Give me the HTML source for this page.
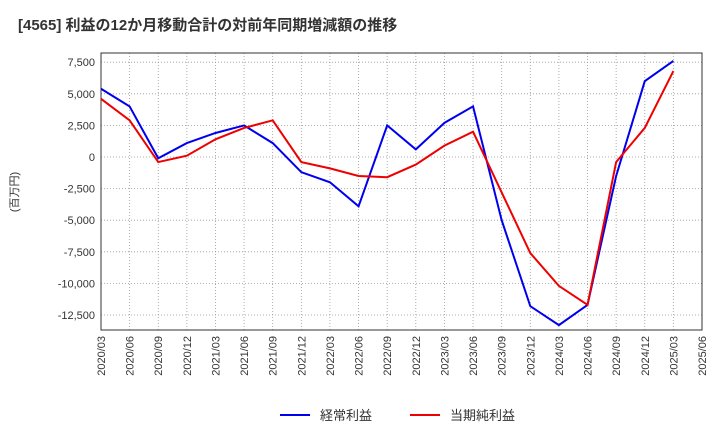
<!DOCTYPE html>
<html><head><meta charset="utf-8"><style>
body{margin:0;background:#fff;}
svg text{font-family:"Liberation Sans","Noto Sans CJK JP",sans-serif;}
</style></head><body>
<svg id="c" width="720" height="440" viewBox="0 0 720 440" xmlns="http://www.w3.org/2000/svg">
<text x="18" y="30" font-size="15" font-weight="bold" fill="#333">[4565]  利益の12か月移動合計の対前年同期増減額の推移</text>
<text transform="translate(18,192) rotate(-90)" font-size="11" fill="#333" text-anchor="middle">(百万円)</text>
<g id="grid"></g><g id="axes"></g><g id="series"></g>
<g>
<line x1="280" y1="415" x2="310" y2="415" stroke="#0000ee" stroke-width="2"/>
<text x="320" y="420" font-size="13" fill="#333">経常利益</text>
<line x1="410" y1="415" x2="440" y2="415" stroke="#ee0000" stroke-width="2"/>
<text x="450" y="420" font-size="13" fill="#333">当期純利益</text>
</g>
</svg>
<script>
const categories=["2020/03","2020/06","2020/09","2020/12","2021/03","2021/06","2021/09","2021/12","2022/03","2022/06","2022/09","2022/12","2023/03","2023/06","2023/09","2023/12","2024/03","2024/06","2024/09","2024/12","2025/03","2025/06"];
const keijo=[5400,4000,-100,1100,1900,2500,1100,-1200,-2000,-3900,2500,600,2700,4000,-5000,-11800,-13300,-11700,-1500,6000,7600];
const junrieki=[4600,2900,-400,100,1400,2300,2900,-400,-900,-1500,-1600,-600,900,2000,-2800,-7600,-10200,-11700,-400,2300,6800];
const yTicks=[7500,5000,2500,0,-2500,-5000,-7500,-10000,-12500];
const NS="http://www.w3.org/2000/svg";
const L=101,R=702,T=53,B=330;
const x=i=>L+i*(R-L)/(categories.length-1);
const y=v=>157-v*(31.6/2500);
function mk(p,t,a){const e=document.createElementNS(NS,t);for(const k in a)e.setAttribute(k,a[k]);p.appendChild(e);return e;}
const g=document.getElementById('grid'),ax=document.getElementById('axes'),s=document.getElementById('series');
categories.forEach((c,i)=>{
 const l=mk(g,'line',{x1:x(i),x2:x(i),y1:T,y2:B,stroke:'#999','stroke-dasharray':'1,2','stroke-width':0.8});
 
 
 const t=mk(ax,'text',{transform:`translate(${x(i)+4},${B+6}) rotate(-90)`,'font-size':11,fill:'#333','text-anchor':'end'});
 t.textContent=c;
 
 
});
yTicks.forEach(v=>{
 const l=mk(g,'line',{x1:L,x2:R,y1:y(v),y2:y(v),stroke:'#999','stroke-dasharray':'1,2','stroke-width':0.8});
 
 
 const t=mk(ax,'text',{x:L-6,y:y(v)+4,'font-size':11,fill:'#333','text-anchor':'end'});
 t.textContent=v.toLocaleString('en-US');
 
 
});
const fr=mk(ax,'rect',{x:L,y:T,width:R-L,height:B-T,fill:'none',stroke:'#333','stroke-width':1});


function line(d,col,name){
 const p=mk(s,'polyline',{points:d.map((v,i)=>x(i)+','+y(v)).join(' '),fill:'none',stroke:col,'stroke-width':2});
 
 
}
line(keijo,'#0000ee','keijo-line');
line(junrieki,'#ee0000','junrieki-line');
</script>
</body></html>
